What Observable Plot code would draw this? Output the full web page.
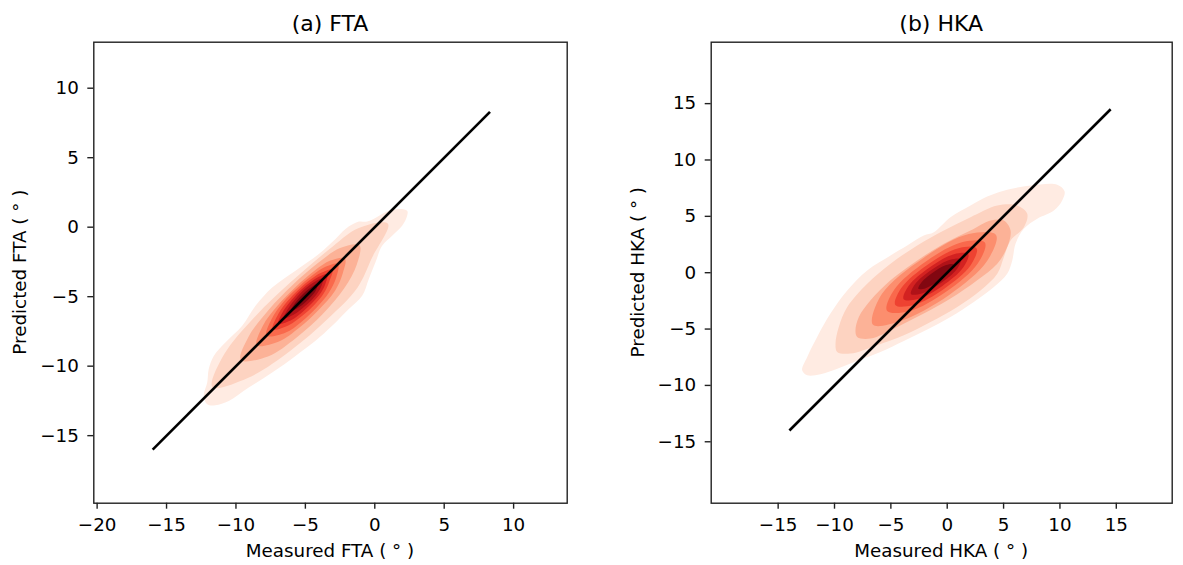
<!DOCTYPE html>
<html><head><meta charset="utf-8">
<script src="https://cdn.jsdelivr.net/npm/d3@7"></script>
<script src="https://cdn.jsdelivr.net/npm/@observablehq/plot@0.6"></script>
<style>
html,body{margin:0;padding:0;background:#fff;}
#wrap{position:relative;width:1183px;height:565px;overflow:hidden;font-family:"DejaVu Sans",sans-serif;}
#wrap svg{position:absolute;top:0;}
</style></head>
<body><div id="wrap"></div>
<script>
// ---------- data ----------
const ftaLevel0 = [[2.33,1.19],[1.25,1.26],[-0.55,0.40],[-1.15,0.40],[-2.11,-0.13],[-2.83,-0.85],[-4.03,-1.93],[-5.71,-3.13],[-7.39,-4.34],[-8.59,-5.66],[-9.55,-7.10],[-10.76,-8.30],[-11.6,-9.26],[-11.96,-10.2],[-12.07,-11.18],[-12.32,-12.14],[-12.07,-12.74],[-11.48,-12.81],[-10.52,-12.5],[-9.08,-11.54],[-7.39,-10.46],[-5.71,-9.26],[-4.27,-8.18],[-3.07,-7.10],[-1.87,-5.89],[-0.91,-4.94],[-0.43,-3.73],[0.05,-2.53],[0.53,-1.33],[1.25,-0.61],[1.97,0.11],[2.33,0.83]];
const ftaLevel1 = [[-11.7,-11.5],[-9.15,-10.85],[-6.1,-8.9],[-3.4,-6.6],[-1.25,-4.35],[-0.2,-2.2],[0.95,0.25],[-1.15,-0.05],[-3.35,-1.65],[-6.05,-3.95],[-8.6,-6.4],[-10.85,-9.15]];
const ftaLevel2 = [[-9.65,-9.55],[-7.7,-9.3],[-5.65,-7.95],[-3.75,-6.25],[-2.2,-4.4],[-1.3,-2.7],[-1.1,-1.3],[-2.5,-1.5],[-4.05,-2.55],[-5.88,-4.12],[-7.65,-5.95],[-9.1,-7.9]];
const ftaLevel3 = [[-8.5,-8.5],[-6.95,-8.25],[-5.4,-7.2],[-4.05,-5.95],[-2.85,-4.55],[-2.3,-3.3],[-2.15,-2.25],[-3.2,-2.4],[-4.3,-3.1],[-5.7,-4.3],[-6.98,-5.62],[-8.08,-7.12]];
const ftaLevel4 = [[-7.8,-7.8],[-6.45,-7.6],[-5.25,-6.78],[-4.2,-5.8],[-3.3,-4.7],[-2.78,-3.62],[-2.65,-2.65],[-3.55,-2.85],[-4.52,-3.48],[-5.6,-4.4],[-6.6,-5.4],[-7.42,-6.58]];
const ftaLevel5 = [[-7.35,-7.35],[-6.2,-7.05],[-5.22,-6.38],[-4.38,-5.62],[-3.66,-4.74],[-3.28,-3.92],[-3.05,-3.05],[-3.9,-3.3],[-4.63,-3.77],[-5.5,-4.5],[-6.28,-5.32],[-6.95,-6.25]];
const ftaLevel6 = [[-6.95,-6.95],[-6.0,-6.68],[-5.15,-6.05],[-4.43,-5.37],[-3.88,-4.72],[-3.55,-4.05],[-3.42,-3.38],[-4.03,-3.57],[-4.64,-3.96],[-5.3,-4.5],[-5.98,-5.22],[-6.58,-6.02]];
const ftaLevel7 = [[-6.55,-6.55],[-5.8,-6.27],[-5.08,-5.72],[-4.55,-5.25],[-4.1,-4.7],[-3.82,-4.18],[-3.72,-3.68],[-4.17,-3.83],[-4.66,-4.14],[-5.2,-4.6],[-5.68,-5.12],[-6.2,-5.8]];
const ftaLevel8 = [[-6.05,-6.05],[-5.5,-5.78],[-5.02,-5.42],[-4.6,-5.0],[-4.25,-4.55],[-4.12,-4.08],[-4.52,-4.28],[-4.98,-4.62],[-5.38,-5.02],[-5.74,-5.46]];

const hkaLevel0 = [[10.41,7.22],[9.76,7.81],[7.39,7.73],[5.02,7.28],[3.55,6.75],[2.07,5.96],[0.29,4.92],[-1.19,3.59],[-2.08,3.30],[-3.55,2.42],[-5.03,1.53],[-7.10,0.20],[-8.87,-1.57],[-10.36,-3.63],[-11.54,-5.70],[-12.42,-7.47],[-12.87,-8.65],[-12.42,-9.09],[-11.24,-9.0],[-9.47,-8.41],[-7.69,-7.70],[-5.92,-7.03],[-3.85,-6.05],[-1.77,-5.04],[0.29,-3.93],[2.36,-2.60],[4.14,-1.27],[5.32,-0.09],[5.77,1.09],[6.06,2.57],[6.80,3.89],[7.99,4.78],[9.46,5.51],[10.2,6.4]];
const hkaLevel1 = [[-9.76,-7.03],[-8.58,-7.17],[-6.21,-6.43],[-3.85,-5.55],[-1.48,-4.37],[0.89,-3.04],[2.95,-1.57],[4.44,-0.09],[5.02,1.38],[5.62,2.86],[6.8,4.04],[7.1,5.22],[6.21,5.96],[4.44,5.96],[2.07,4.92],[-0.3,3.74],[-2.66,2.42],[-5.03,0.8],[-7.1,-0.97],[-8.87,-3.04],[-9.62,-4.81],[-9.91,-6.28]];
const hkaLevel2 = [[-7.99,-5.70],[-6.8,-5.84],[-4.44,-4.81],[-2.08,-3.63],[0.29,-2.3],[2.66,-0.68],[4.44,0.8],[5.32,2.27],[5.62,3.74],[5.02,4.63],[3.84,4.63],[2.07,3.74],[-0.30,2.57],[-2.66,1.09],[-5.03,-0.68],[-6.8,-2.45],[-7.84,-3.93],[-8.14,-5.1]];
const hkaLevel3 = [[-6.6,-4.6],[-4.2,-4.3],[0.14,-1.99],[3.552,1.063],[4.33,3.355],[1.91,3.425],[-2.14,1.29],[-5.8,-1.9]];
const hkaLevel4 = [[-5.346,-3.371],[-3.377,-3.421],[-0.077,-1.678],[2.707,0.809],[3.346,2.671],[1.377,2.721],[-1.923,0.978],[-4.707,-1.509]];
const hkaLevel5 = [[-4.608,-2.858],[-2.992,-2.874],[-0.259,-1.416],[2.06,0.638],[2.608,2.158],[0.992,2.174],[-1.741,0.716],[-4.06,-1.338]];
const hkaLevel6 = [[-3.87,-2.345],[-2.599,-2.337],[-0.43,-1.17],[1.419,0.457],[1.87,1.645],[0.599,1.637],[-1.57,0.47],[-3.419,-1.157]];
const hkaLevel7 = [[-3.214,-1.889],[-2.255,-1.852],[-0.59,-0.94],[0.845,0.302],[1.214,1.189],[0.255,1.152],[-1.41,0.24],[-2.845,-1.002]];
const hkaLevel8 = [[-2.558,-1.433],[-1.906,-1.374],[-0.744,-0.719],[0.276,0.142],[0.558,0.733],[-0.094,0.674],[-1.257,0.019],[-2.276,-0.842]];

const ftaIdentity = [-16, 8.3];
const hkaIdentity = [-14, 14.5];

const ftaXTicks = [-20, -15, -10, -5, 0, 5, 10];
const ftaYTicks = [-15, -10, -5, 0, 5, 10];
const hkaXTicks = [-15, -10, -5, 0, 5, 10, 15];
const hkaYTicks = [-15, -10, -5, 0, 5, 10, 15];

const ftaXDomain = [-20.24, 13.86], ftaYDomain = [-19.86, 13.31];
const hkaXDomain = [-20.94, 19.96], hkaYDomain = [-20.45, 20.45];

const titles = ["(a) FTA", "(b) HKA"];
const xLabels = ["Measured FTA ( \u00b0 )", "Measured HKA ( \u00b0 )"];
const yLabels = ["Predicted FTA ( \u00b0 )", "Predicted HKA ( \u00b0 )"];

// ---------- drawing ----------
const fmt = d => d < 0 ? "\u2212" + Math.abs(d) : String(d);
const H = 565, TOP = 41.7, BOTTOM = 502.7, FS = 18.3;

function panel({levels, identity, xDomain, yDomain, xTicks, yTicks, width, left, right}) {
  const rows = levels.flatMap((poly, level) => poly.map(([x, y]) => ({level, x, y})));
  const diag = identity.map(v => ({v}));
  return Plot.plot({
    width, height: H,
    marginLeft: left, marginRight: width - right, marginTop: TOP, marginBottom: H - BOTTOM,
    x: {domain: xDomain},
    y: {domain: yDomain},
    color: {type: "linear", scheme: "reds", domain: [-0.5, levels.length - 0.5]},
    style: {fontFamily: "DejaVu Sans", fontSize: FS + "px", color: "#000", background: "transparent", overflow: "visible"},
    marks: [
      Plot.line(rows, {x: "x", y: "y", z: "level", fill: "level", stroke: "none", curve: "catmull-rom-closed"}),
      Plot.line(diag, {x: "v", y: "v", stroke: "#000", strokeWidth: 2.6, strokeLinecap: "butt"}),
      Plot.frame({stroke: "#222", strokeWidth: 1.4}),
      Plot.axisX(xTicks, {tickSize: 6, tickPadding: 9, tickFormat: fmt, label: null, strokeWidth: 1.4, stroke: "#222", fontSize: FS}),
      Plot.axisY(yTicks, {tickSize: 6, tickPadding: 9, tickFormat: fmt, label: null, strokeWidth: 1.4, stroke: "#222", fontSize: FS})
    ]
  });
}

const wrap = document.getElementById("wrap");
const p1 = panel({levels: [ftaLevel0, ftaLevel1, ftaLevel2, ftaLevel3, ftaLevel4, ftaLevel5, ftaLevel6, ftaLevel7, ftaLevel8],
  identity: ftaIdentity, xDomain: ftaXDomain, yDomain: ftaYDomain, xTicks: ftaXTicks, yTicks: ftaYTicks,
  width: 600, left: 93.3, right: 566.7});
p1.style.left = "0px";
wrap.appendChild(p1);

const p2 = panel({levels: [hkaLevel0, hkaLevel1, hkaLevel2, hkaLevel3, hkaLevel4, hkaLevel5, hkaLevel6, hkaLevel7, hkaLevel8],
  identity: hkaIdentity, xDomain: hkaXDomain, yDomain: hkaYDomain, xTicks: hkaXTicks, yTicks: hkaYTicks,
  width: 583, left: 110.7, right: 571.7});
p2.style.left = "600px";
wrap.appendChild(p2);

// text layer
const frames = [[93.3, 566.7], [710.7, 1171.7]];
const svg = d3.select(wrap).append("svg").attr("width", 1183).attr("height", H)
  .style("left", "0px").style("font-family", "DejaVu Sans").style("pointer-events", "none");
frames.forEach(([l, r], i) => {
  const cx = (l + r) / 2, cy = (TOP + BOTTOM) / 2;
  svg.append("text").attr("x", cx).attr("y", 30.5).attr("text-anchor", "middle").attr("font-size", 22).attr("fill", "#000").text(titles[i]);
  svg.append("text").attr("x", cx).attr("y", 557).attr("text-anchor", "middle").attr("font-size", FS).attr("fill", "#000").text(xLabels[i]);
  svg.append("text").attr("transform", `translate(${l - 67},${cy}) rotate(-90)`).attr("text-anchor", "middle").attr("font-size", FS).attr("fill", "#000").text(yLabels[i]);
});
</script>
</body></html>
